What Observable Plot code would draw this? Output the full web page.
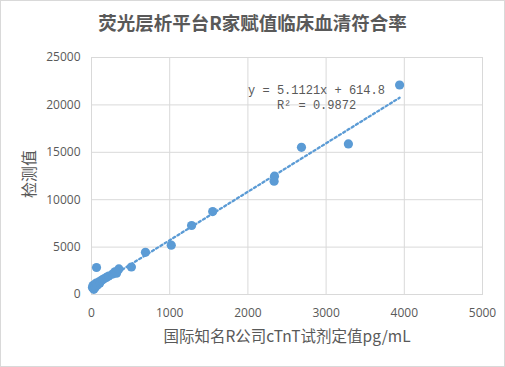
<!DOCTYPE html>
<html><head><meta charset="utf-8">
<script src="https://cdn.jsdelivr.net/npm/d3@7"></script>
<script src="https://cdn.jsdelivr.net/npm/@observablehq/plot@0.6"></script>
<style>
body{margin:0;background:#fff}
#wrap{position:relative;width:505px;height:367px;overflow:hidden;background:#fff}
#title{height:40px;line-height:45px;text-align:center;font-family:"Noto Sans CJK SC";font-weight:bold;font-size:18.5px;color:#595959;white-space:nowrap}
#border{position:absolute;left:0;top:0;width:505px;height:367px;box-sizing:border-box;border:1px solid #d9d9d9;pointer-events:none}
#chart svg{display:block}
</style>
</head><body>
<div id="wrap">
<div id="title"></div>
<div id="chart"></div>
<div id="border"></div>
</div>
<script>
const chartTitle = "荧光层析平台R家赋值临床血清符合率";
const xLabel = "国际知名R公司cTnT试剂定值pg/mL";
const yLabel = "检测值";
// reference value (x) and measured value (y)
const refX = [12, 20, 30, 40, 50, 60, 75, 90, 105, 120, 140, 160, 190, 220, 64, 270, 300, 320, 350, 510, 690, 1020, 1280, 1550, 2335, 2340, 2685, 3285, 3940];
const detY = [750, 950, 550, 1050, 800, 1200, 1000, 1300, 1200, 1450, 1550, 1650, 1800, 1950, 2850, 2150, 2400, 2250, 2700, 2900, 4450, 5200, 7280, 8750, 11950, 12480, 15530, 15880, 22100];
const xTicks = [0, 1000, 2000, 3000, 4000, 5000];
const yTicks = [0, 5000, 10000, 15000, 20000, 25000];
const slope = 5.1121, intercept = 614.8, r2 = 0.9872;

document.getElementById("title").textContent = chartTitle;

const pts = refX.map((x, i) => ({x, y: detY[i]}));
const trend = d3.extent(refX).map(x => ({x, y: slope * x + intercept}));
const eq = `y = ${slope}x + ${intercept}\nR² = ${r2}`;

const blue = "#5b9bd5", grey = "#595959", gridC = "#d9d9d9";

const plot = Plot.plot({
  width: 505, height: 327,
  marginTop: 17, marginBottom: 73, marginLeft: 91, marginRight: 23,
  style: {fontFamily: "Open Sans", fontSize: "12px", color: grey, background: "#fff"},
  x: {domain: [0, 5000]},
  y: {domain: [0, 25000]},
  marks: [
    Plot.gridX(xTicks, {stroke: gridC, strokeOpacity: 1}),
    Plot.gridY(yTicks, {stroke: gridC, strokeOpacity: 1}),
    Plot.frame({stroke: gridC}),
    Plot.axisX(xTicks, {tickSize: 0, tickPadding: 14, tickFormat: d => String(d), label: null, fill: grey, fontSize: 12}),
    Plot.axisY(yTicks, {tickSize: 0, tickPadding: 11, tickFormat: d => String(d), label: null, fill: grey, fontSize: 12}),
    Plot.line(trend, {x: "x", y: "y", stroke: blue, strokeWidth: 2.3, strokeDasharray: "2.3 2.7"}),
    Plot.dot(pts, {x: "x", y: "y", r: 4.6, fill: blue, stroke: "none"}),
    Plot.text([eq], {frameAnchor: "top-left", dx: 225, dy: 39.5, text: d => d, textAnchor: "middle", lineAnchor: "middle", lineHeight: 1.25, fontFamily: "Liberation Mono", fontSize: 12, fill: grey}),
    Plot.text([xLabel], {frameAnchor: "bottom", dy: 42.5, text: d => d, textAnchor: "middle", lineAnchor: "middle", fontFamily: "Noto Sans CJK SC", fontSize: 15.5, fill: grey}),
    Plot.text([yLabel], {frameAnchor: "left", dx: -62, dy: -2, rotate: -90, text: d => d, textAnchor: "middle", lineAnchor: "middle", fontFamily: "Noto Sans CJK SC", fontSize: 16, fill: grey})
  ]
});
document.getElementById("chart").appendChild(plot);
</script>
</body></html>
